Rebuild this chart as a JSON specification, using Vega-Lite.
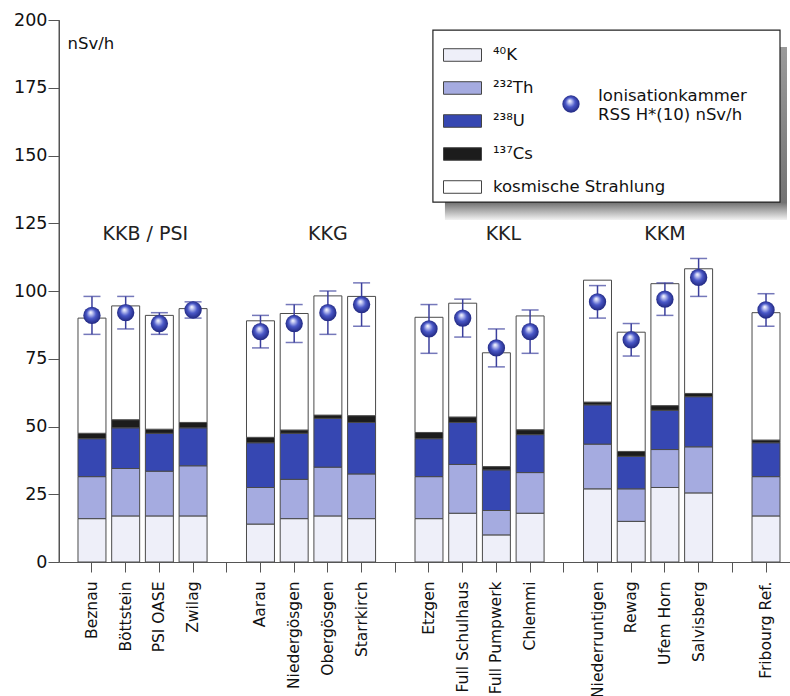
{
  "$schema": "https://vega.github.io/schema/vega-lite/v6.json",
  "width": 731,
  "height": 542,
  "autosize": {"type": "none"},
  "padding": {"left": 59, "top": 20, "right": 0, "bottom": 134},
  "background": "white",
  "config": {
    "view": {"stroke": null},
    "font": "DejaVu Sans",
    "axis": {"domainColor": "#555", "tickColor": "#555", "labelFont": "DejaVu Sans", "labelColor": "#111", "grid": false, "domainWidth": 1, "tickWidth": 1}
  },
  "datasets": {
    "comp": [
      {"location": "Beznau", "K40": 16, "Th232": 15.5, "U238": 14, "Cs137": 2, "kosmisch": 42.5},
      {"location": "Böttstein", "K40": 17, "Th232": 17.5, "U238": 15, "Cs137": 3, "kosmisch": 42},
      {"location": "PSI OASE", "K40": 17, "Th232": 16.5, "U238": 14, "Cs137": 1.5, "kosmisch": 42},
      {"location": "Zwilag", "K40": 17, "Th232": 18.5, "U238": 14, "Cs137": 2, "kosmisch": 42},
      {"location": "Aarau", "K40": 14, "Th232": 13.5, "U238": 16.5, "Cs137": 2, "kosmisch": 43},
      {"location": "Niedergösgen", "K40": 16, "Th232": 14.5, "U238": 17, "Cs137": 1.2, "kosmisch": 43},
      {"location": "Obergösgen", "K40": 17, "Th232": 18, "U238": 18, "Cs137": 1.2, "kosmisch": 44},
      {"location": "Starrkirch", "K40": 16, "Th232": 16.5, "U238": 19, "Cs137": 2.5, "kosmisch": 44},
      {"location": "Etzgen", "K40": 16, "Th232": 15.5, "U238": 14, "Cs137": 2.3, "kosmisch": 42.5},
      {"location": "Full Schulhaus", "K40": 18, "Th232": 18, "U238": 15.5, "Cs137": 2, "kosmisch": 42},
      {"location": "Full Pumpwerk", "K40": 10, "Th232": 9, "U238": 15, "Cs137": 1.2, "kosmisch": 42},
      {"location": "Chlemmi", "K40": 18, "Th232": 15, "U238": 14, "Cs137": 1.8, "kosmisch": 42},
      {"location": "Niederruntigen", "K40": 27, "Th232": 16.5, "U238": 14.5, "Cs137": 1, "kosmisch": 45},
      {"location": "Rewag", "K40": 15, "Th232": 12, "U238": 12, "Cs137": 1.8, "kosmisch": 44},
      {"location": "Ufem Horn", "K40": 27.5, "Th232": 14, "U238": 14.5, "Cs137": 1.7, "kosmisch": 45},
      {"location": "Salvisberg", "K40": 25.5, "Th232": 17, "U238": 18.5, "Cs137": 1.2, "kosmisch": 46},
      {"location": "Fribourg Ref.", "K40": 17, "Th232": 14.5, "U238": 12.5, "Cs137": 1, "kosmisch": 47}
    ],
    "meas": [
      {"location": "Beznau", "dose": 91, "lo": 84, "hi": 98},
      {"location": "Böttstein", "dose": 92, "lo": 86, "hi": 98},
      {"location": "PSI OASE", "dose": 88, "lo": 84, "hi": 92},
      {"location": "Zwilag", "dose": 93, "lo": 90, "hi": 96},
      {"location": "Aarau", "dose": 85, "lo": 79, "hi": 91},
      {"location": "Niedergösgen", "dose": 88, "lo": 81, "hi": 95},
      {"location": "Obergösgen", "dose": 92, "lo": 84, "hi": 100},
      {"location": "Starrkirch", "dose": 95, "lo": 87, "hi": 103},
      {"location": "Etzgen", "dose": 86, "lo": 77, "hi": 95},
      {"location": "Full Schulhaus", "dose": 90, "lo": 83, "hi": 97},
      {"location": "Full Pumpwerk", "dose": 79, "lo": 72, "hi": 86},
      {"location": "Chlemmi", "dose": 85, "lo": 77, "hi": 93},
      {"location": "Niederruntigen", "dose": 96, "lo": 90, "hi": 102},
      {"location": "Rewag", "dose": 82, "lo": 76, "hi": 88},
      {"location": "Ufem Horn", "dose": 97, "lo": 91, "hi": 103},
      {"location": "Salvisberg", "dose": 105, "lo": 98, "hi": 112},
      {"location": "Fribourg Ref.", "dose": 93, "lo": 87, "hi": 99}
    ],
    "groups": [
      {"label": "KKB / PSI", "anchor": "PSI OASE", "level": 121, "pos": "left"},
      {"label": "KKG", "anchor": "Obergösgen", "level": 121, "pos": "mid"},
      {"label": "KKL", "anchor": "Full Pumpwerk", "level": 121, "pos": "late"},
      {"label": "KKM", "anchor": "Ufem Horn", "level": 121, "pos": "mid"}
    ]
  },
  "encoding": {
    "x": {
      "field": "location",
      "type": "nominal",
      "scale": {
        "domain": ["Beznau", "Böttstein", "PSI OASE", "Zwilag", "gap1", "Aarau", "Niedergösgen", "Obergösgen", "Starrkirch", "gap2", "Etzgen", "Full Schulhaus", "Full Pumpwerk", "Chlemmi", "gap3", "Niederruntigen", "Rewag", "Ufem Horn", "Salvisberg", "gap4", "Fribourg Ref."],
        "paddingInner": 0.17,
        "paddingOuter": 0.43,
        "align": 0.655
      },
      "axis": {
        "title": null,
        "labelAngle": 270,
        "labelFontSize": 15.5,
        "tickSize": 10,
        "labelPadding": 9,
        "labelExpr": "indexof(datum.label, 'gap') === 0 ? '' : datum.label",
        "labelLimit": 200
      }
    }
  },
  "layer": [
    {
      "data": {"values": [{}]},
      "mark": {"type": "rect", "fill": {"gradient": "linear", "x1": 0, "y1": 0, "x2": 0, "y2": 1, "stops": [{"offset": 0, "color": "#888888"}, {"offset": 0.9, "color": "#5a5a5a"}, {"offset": 1, "color": "#f0f0f0"}]}, "opacity": 0.85},
      "encoding": {
        "x": {"datum": "Etzgen", "bandPosition": 1.07},
        "x2": {"datum": "Fribourg Ref.", "bandPosition": 1.25},
        "y": {"datum": 190},
        "y2": {"datum": 126.2}
      }
    },
    {
      "data": {"values": [{}]},
      "mark": {"type": "rect", "fill": "white", "stroke": "#222", "strokeWidth": 1.2},
      "encoding": {
        "x": {"datum": "Etzgen", "bandPosition": 0.64},
        "x2": {"datum": "Fribourg Ref.", "bandPosition": 1},
        "y": {"datum": 196.3},
        "y2": {"datum": 132.8}
      }
    },
    {
      "data": {"values": [{}]},
      "mark": {"type": "rule", "color": "#555", "strokeWidth": 1},
      "encoding": {"y": {"datum": 200, "type": "quantitative"}}
    },
    {
      "data": {"name": "comp"},
      "transform": [
        {"fold": ["K40", "Th232", "U238", "Cs137", "kosmisch"], "as": ["key", "value"]},
        {"calculate": "indexof(['K40','Th232','U238','Cs137','kosmisch'], datum.key)", "as": "ord"}
      ],
      "mark": {"type": "bar", "stroke": "#4a4a4a", "strokeWidth": 1},
      "encoding": {
        "y": {
          "field": "value",
          "type": "quantitative",
          "stack": "zero",
          "scale": {"domain": [0, 200], "nice": false},
          "axis": {
            "values": [0, 12.5, 25, 37.5, 50, 62.5, 75, 87.5, 100, 112.5, 125, 137.5, 150, 162.5, 175, 187.5, 200],
            "labelExpr": "datum.value % 25 === 0 ? format(datum.value, 'd') : ''",
            "labelFontSize": 17.5,
            "tickSize": 11,
            "labelPadding": 1,
            "title": "nSv/h",
            "titleAngle": 0,
            "titleX": 8,
            "titleY": 23,
            "titleAlign": "left",
            "titleBaseline": "middle",
            "titleFontWeight": "normal",
            "titleFontSize": 16.5,
            "titleColor": "#111",
            "titleFont": "DejaVu Sans",
            "encode": {"ticks": {"update": {"x2": {"signal": "datum.value % 25 === 0 ? -11 : -6"}}}}
          }
        },
        "fill": {
          "field": "key",
          "type": "nominal",
          "scale": {"domain": ["K40", "Th232", "U238", "Cs137", "kosmisch"], "range": ["#eeeff9", "#a5abe0", "#3647b2", "#1c1c1c", "#ffffff"]},
          "legend": {
            "orient": "none",
            "legendX": 384,
            "legendY": 25,
            "title": null,
            "symbolType": "M-1,-0.33H1V0.33H-1Z",
            "symbolSize": 1444,
            "symbolStrokeColor": "#444",
            "symbolStrokeWidth": 1,
            "labelFontSize": 16.5,
            "labelFont": "DejaVu Sans",
            "labelColor": "#111",
            "labelOffset": 11,
            "clipHeight": 20,
            "rowPadding": 13,
            "padding": 0,
            "labelLimit": 300,
            "labelExpr": "datum.label === 'K40' ? '⁴⁰K' : datum.label === 'Th232' ? '²³²Th' : datum.label === 'U238' ? '²³⁸U' : datum.label === 'Cs137' ? '¹³⁷Cs' : 'kosmische Strahlung'"
          }
        },
        "order": {"field": "ord", "type": "quantitative", "sort": "ascending"}
      }
    },
    {
      "data": {"name": "meas"},
      "mark": {"type": "rule", "color": "#3b3f9c", "strokeWidth": 1.5},
      "encoding": {
        "y": {"field": "lo", "type": "quantitative"},
        "y2": {"field": "hi"}
      }
    },
    {
      "data": {"name": "meas"},
      "mark": {"type": "tick", "color": "#3b3f9c", "size": 17, "thickness": 1.5},
      "encoding": {"y": {"field": "lo", "type": "quantitative"}}
    },
    {
      "data": {"name": "meas"},
      "mark": {"type": "tick", "color": "#3b3f9c", "size": 17, "thickness": 1.5},
      "encoding": {"y": {"field": "hi", "type": "quantitative"}}
    },
    {
      "data": {"name": "meas"},
      "mark": {
        "type": "point",
        "filled": true,
        "opacity": 1,
        "size": 300,
        "strokeWidth": 0,
        "fill": {"gradient": "radial", "x1": 0.42, "y1": 0.32, "r1": 0, "x2": 0.5, "y2": 0.5, "r2": 0.55, "stops": [{"offset": 0, "color": "#ffffff"}, {"offset": 0.18, "color": "#c3c8f2"}, {"offset": 0.5, "color": "#4a58c8"}, {"offset": 1, "color": "#1a2075"}]}
      },
      "encoding": {
        "y": {"field": "dose", "type": "quantitative"},
        "shape": {
          "datum": "Ionisationkammer RSS H*(10) nSv/h",
          "scale": {"range": ["circle"]},
          "legend": {
            "orient": "none",
            "legendX": 503,
            "legendY": 75,
            "title": null,
            "symbolSize": 300,
            "symbolFillColor": "#3d4cc0",
            "symbolStrokeWidth": 0,
            "labelFontSize": 16.5,
            "labelFont": "DejaVu Sans",
            "labelColor": "#111",
            "labelOffset": 18,
            "labelBaseline": "bottom",
            "padding": 0,
            "labelLimit": 300,
            "labelExpr": "['Ionisationkammer', 'RSS H*(10) nSv/h']",
            "encode": {"labels": {"update": {"lineHeight": {"value": 20}}}}
          }
        }
      }
    },
    {
      "data": {"name": "groups"},
      "transform": [{"filter": "datum.pos === 'mid'"}],
      "mark": {"type": "text", "fontSize": 19, "color": "#222", "font": "DejaVu Sans", "baseline": "middle"},
      "encoding": {
        "x": {"field": "anchor", "type": "nominal", "bandPosition": 0.5},
        "y": {"field": "level", "type": "quantitative"},
        "text": {"field": "label"}
      }
    },
    {
      "data": {"name": "groups"},
      "transform": [{"filter": "datum.pos === 'left'"}],
      "mark": {"type": "text", "fontSize": 19, "color": "#222", "font": "DejaVu Sans", "baseline": "middle"},
      "encoding": {
        "x": {"field": "anchor", "type": "nominal", "bandPosition": 0},
        "y": {"field": "level", "type": "quantitative"},
        "text": {"field": "label"}
      }
    },
    {
      "data": {"name": "groups"},
      "transform": [{"filter": "datum.pos === 'late'"}],
      "mark": {"type": "text", "fontSize": 19, "color": "#222", "font": "DejaVu Sans", "baseline": "middle"},
      "encoding": {
        "x": {"field": "anchor", "type": "nominal", "bandPosition": 0.75},
        "y": {"field": "level", "type": "quantitative"},
        "text": {"field": "label"}
      }
    }
  ]
}
